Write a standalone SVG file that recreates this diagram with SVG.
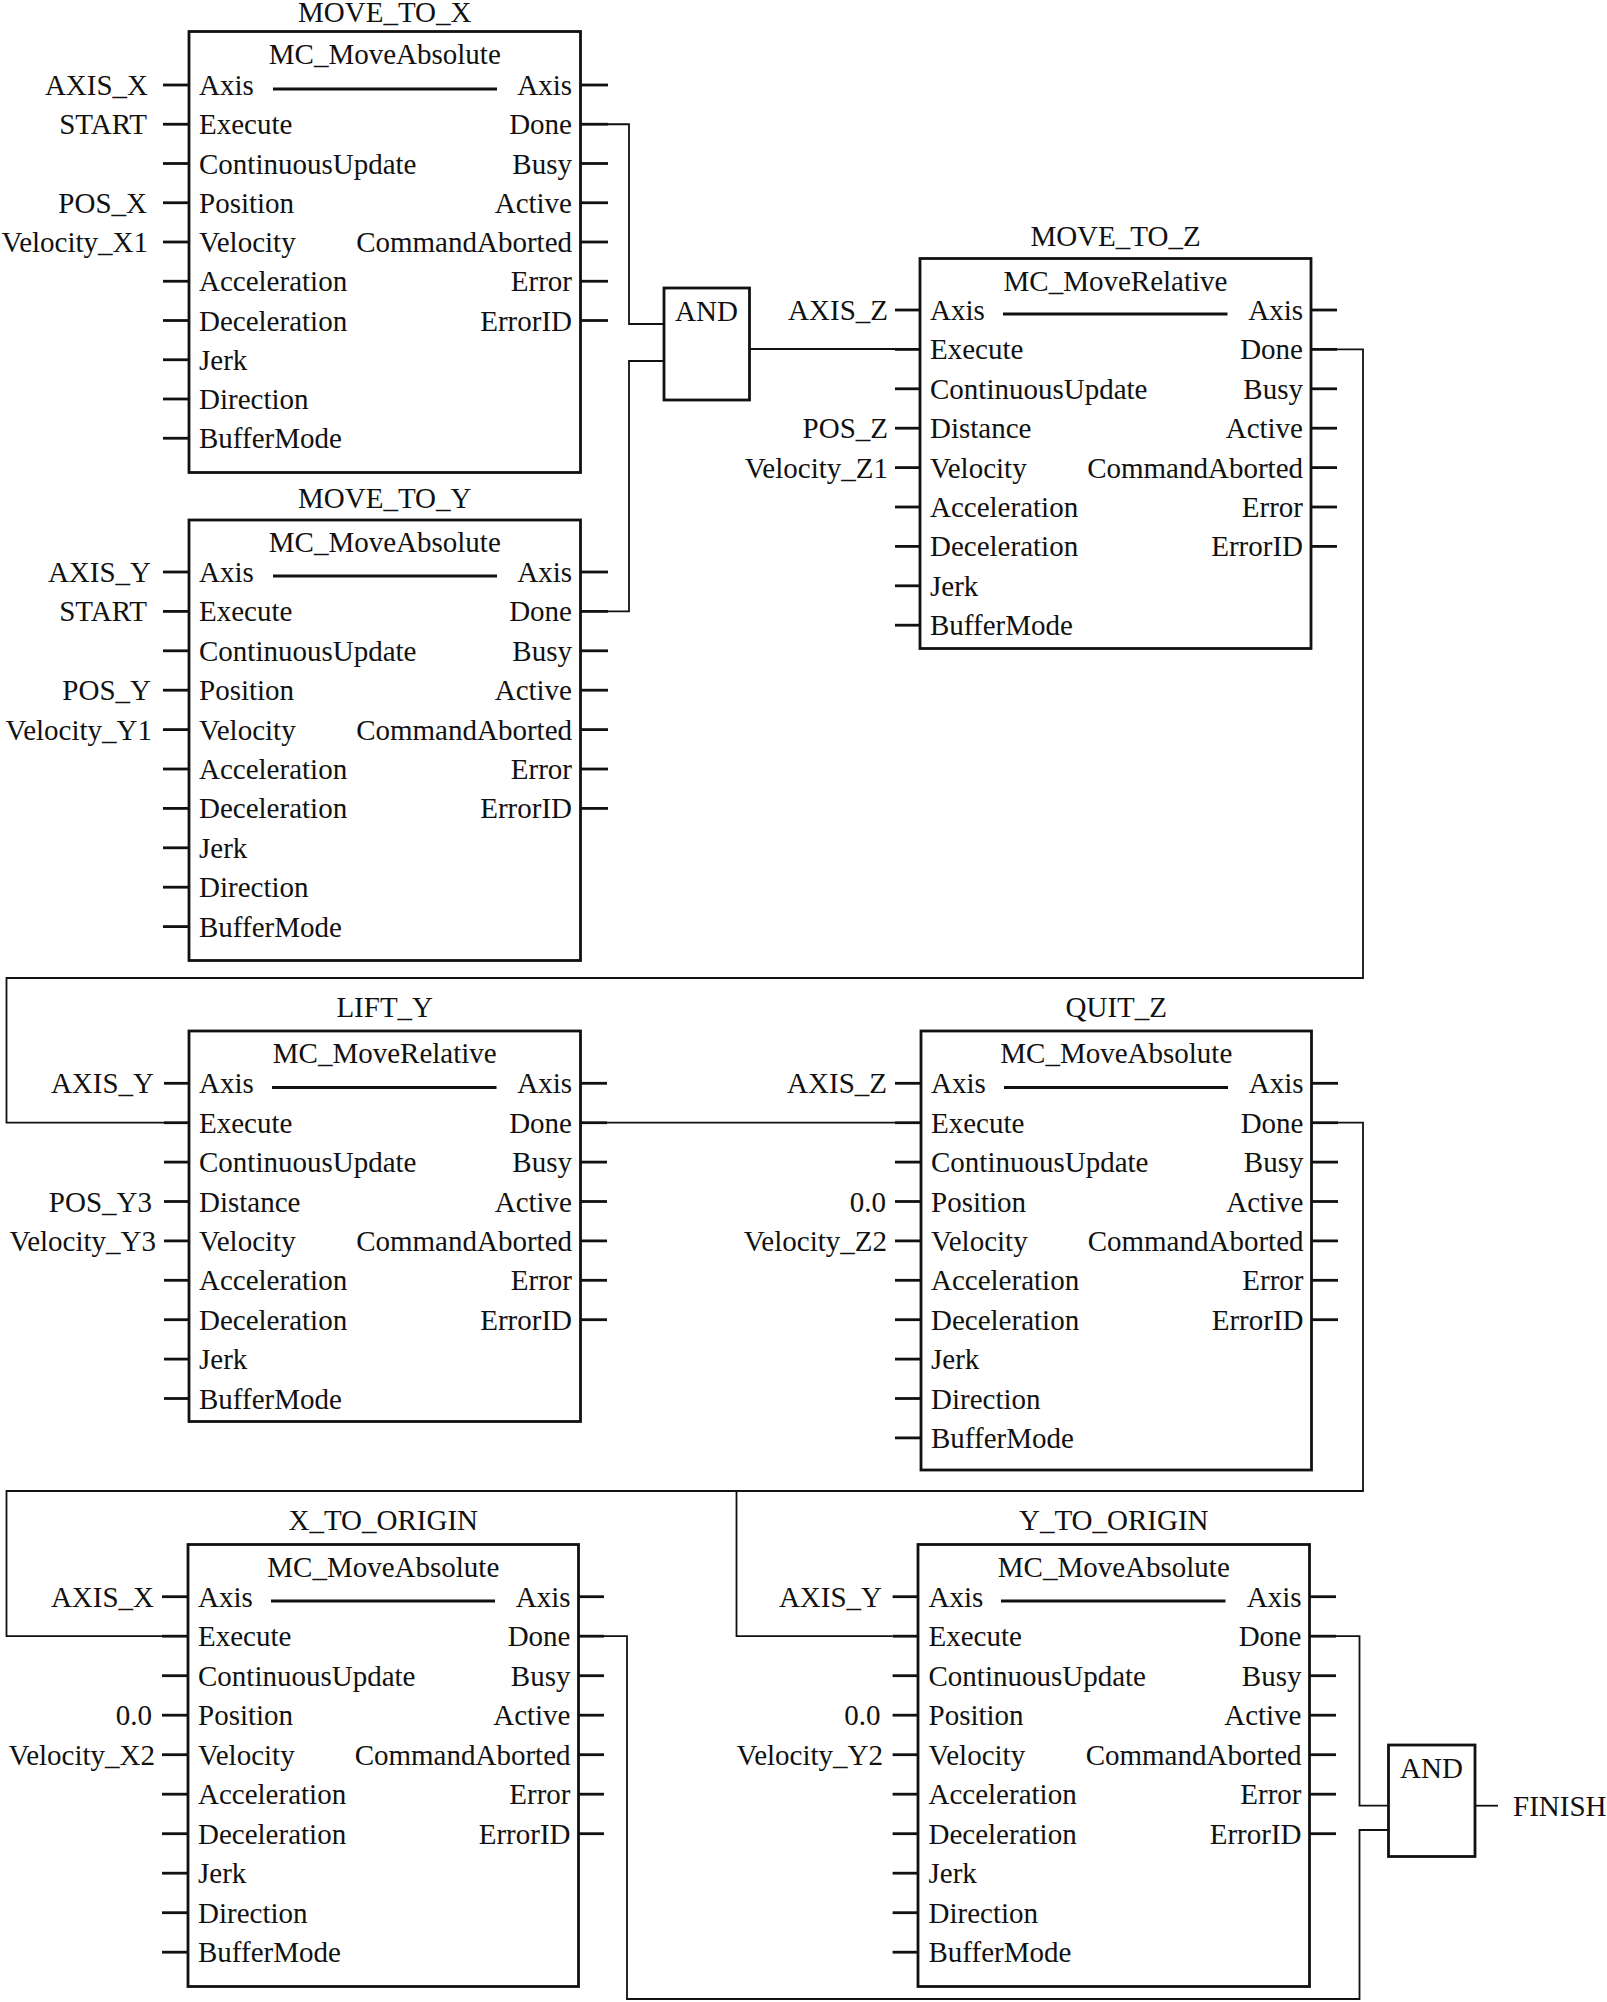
<svg xmlns="http://www.w3.org/2000/svg" width="1607" height="2002" viewBox="0 0 1607 2002">
<style>
text{font-family:"Liberation Serif","Times New Roman",serif;font-size:29px;fill:#111}
.r{text-anchor:end}
.m{text-anchor:middle}
.box{fill:none;stroke:#111;stroke-width:2.8}
.stub{stroke:#111;stroke-width:2.8}
.ax{stroke:#111;stroke-width:3}
.wire{fill:none;stroke:#111;stroke-width:1.8}
</style>
<rect width="1607" height="2002" fill="#fff"/>

<g id="connectors">
<polyline class="wire" points="608,124.25 629,124.25 629,324 664,324"/>
<polyline class="wire" points="608,611.4 629,611.4 629,361 664,361"/>
<polyline class="wire" points="749.5,349 895,349"/>
<polyline class="wire" points="1337,349.4 1363,349.4 1363,978 6.5,978 6.5,1122.7 164,1122.7"/>
<polyline class="wire" points="607,1122.7 895,1122.7"/>
<polyline class="wire" points="1338,1122.7 1363,1122.7 1363,1491 6.5,1491 6.5,1636.2 162,1636.2"/>
<polyline class="wire" points="736.5,1491 736.5,1636.2 892.6,1636.2"/>
<polyline class="wire" points="604,1636.2 627,1636.2 627,1999 1359.5,1999 1359.5,1830 1388.5,1830"/>
<polyline class="wire" points="1336,1636.2 1359.5,1636.2 1359.5,1805.7 1388.5,1805.7"/>
<polyline class="wire" points="1475,1805.7 1498,1805.7"/>
</g>

<g id="MOVE_TO_X">
<rect class="box" x="189" y="31.5" width="391.5" height="441"/>
<text class="m" x="384.75" y="22">MOVE_TO_X</text>
<text class="m" x="384.75" y="63.5">MC_MoveAbsolute</text>
<line class="ax" x1="273" y1="89" x2="497" y2="89"/>
<g class="stub">
<line x1="163" y1="85" x2="189" y2="85"/><line x1="163" y1="124.25" x2="189" y2="124.25"/><line x1="163" y1="163.5" x2="189" y2="163.5"/><line x1="163" y1="202.75" x2="189" y2="202.75"/><line x1="163" y1="242" x2="189" y2="242"/><line x1="163" y1="281.25" x2="189" y2="281.25"/><line x1="163" y1="320.5" x2="189" y2="320.5"/><line x1="163" y1="359.75" x2="189" y2="359.75"/><line x1="163" y1="399" x2="189" y2="399"/><line x1="163" y1="438.25" x2="189" y2="438.25"/>
<line x1="580.5" y1="85" x2="608" y2="85"/><line x1="580.5" y1="124.25" x2="608" y2="124.25"/><line x1="580.5" y1="163.5" x2="608" y2="163.5"/><line x1="580.5" y1="202.75" x2="608" y2="202.75"/><line x1="580.5" y1="242" x2="608" y2="242"/><line x1="580.5" y1="281.25" x2="608" y2="281.25"/><line x1="580.5" y1="320.5" x2="608" y2="320.5"/>
</g>
<text x="199" y="95">Axis</text><text x="199" y="134.3">Execute</text><text x="199" y="173.5">ContinuousUpdate</text><text x="199" y="212.8">Position</text><text x="199" y="252">Velocity</text><text x="199" y="291.3">Acceleration</text><text x="199" y="330.5">Deceleration</text><text x="199" y="369.8">Jerk</text><text x="199" y="409">Direction</text><text x="199" y="448.3">BufferMode</text>
<text class="r" x="572" y="95">Axis</text><text class="r" x="572" y="134.3">Done</text><text class="r" x="572" y="173.5">Busy</text><text class="r" x="572" y="212.8">Active</text><text class="r" x="572" y="252">CommandAborted</text><text class="r" x="572" y="291.3">Error</text><text class="r" x="572" y="330.5">ErrorID</text>
<text class="r" x="148" y="95">AXIS_X</text><text class="r" x="147" y="134.3">START</text><text class="r" x="147" y="212.8">POS_X</text><text class="r" x="148" y="252">Velocity_X1</text>
</g>

<g id="MOVE_TO_Y">
<rect class="box" x="189" y="520" width="391.5" height="440.5"/>
<text class="m" x="384.75" y="508">MOVE_TO_Y</text>
<text class="m" x="384.75" y="552">MC_MoveAbsolute</text>
<line class="ax" x1="273" y1="576" x2="497" y2="576"/>
<g class="stub">
<line x1="163" y1="572" x2="189" y2="572"/><line x1="163" y1="611.4" x2="189" y2="611.4"/><line x1="163" y1="650.8" x2="189" y2="650.8"/><line x1="163" y1="690.2" x2="189" y2="690.2"/><line x1="163" y1="729.6" x2="189" y2="729.6"/><line x1="163" y1="769" x2="189" y2="769"/><line x1="163" y1="808.4" x2="189" y2="808.4"/><line x1="163" y1="847.8" x2="189" y2="847.8"/><line x1="163" y1="887.2" x2="189" y2="887.2"/><line x1="163" y1="926.6" x2="189" y2="926.6"/>
<line x1="580.5" y1="572" x2="608" y2="572"/><line x1="580.5" y1="611.4" x2="608" y2="611.4"/><line x1="580.5" y1="650.8" x2="608" y2="650.8"/><line x1="580.5" y1="690.2" x2="608" y2="690.2"/><line x1="580.5" y1="729.6" x2="608" y2="729.6"/><line x1="580.5" y1="769" x2="608" y2="769"/><line x1="580.5" y1="808.4" x2="608" y2="808.4"/>
</g>
<text x="199" y="582">Axis</text><text x="199" y="621.4">Execute</text><text x="199" y="660.8">ContinuousUpdate</text><text x="199" y="700.2">Position</text><text x="199" y="739.6">Velocity</text><text x="199" y="779">Acceleration</text><text x="199" y="818.4">Deceleration</text><text x="199" y="857.8">Jerk</text><text x="199" y="897.2">Direction</text><text x="199" y="936.6">BufferMode</text>
<text class="r" x="572" y="582">Axis</text><text class="r" x="572" y="621.4">Done</text><text class="r" x="572" y="660.8">Busy</text><text class="r" x="572" y="700.2">Active</text><text class="r" x="572" y="739.6">CommandAborted</text><text class="r" x="572" y="779">Error</text><text class="r" x="572" y="818.4">ErrorID</text>
<text class="r" x="151" y="582">AXIS_Y</text><text class="r" x="147" y="621.4">START</text><text class="r" x="151" y="700.2">POS_Y</text><text class="r" x="152" y="739.6">Velocity_Y1</text>
</g>

<g id="AND1">
<rect class="box" x="664" y="288" width="85.5" height="112"/>
<text x="675" y="321">AND</text>
</g>

<g id="MOVE_TO_Z">
<rect class="box" x="920" y="258.5" width="391" height="390"/>
<text class="m" x="1115.5" y="246">MOVE_TO_Z</text>
<text class="m" x="1115.5" y="290.5">MC_MoveRelative</text>
<line class="ax" x1="1003" y1="314" x2="1227.5" y2="314"/>
<g class="stub">
<line x1="895" y1="310" x2="920" y2="310"/><line x1="895" y1="349.4" x2="920" y2="349.4"/><line x1="895" y1="388.8" x2="920" y2="388.8"/><line x1="895" y1="428.2" x2="920" y2="428.2"/><line x1="895" y1="467.6" x2="920" y2="467.6"/><line x1="895" y1="507" x2="920" y2="507"/><line x1="895" y1="546.4" x2="920" y2="546.4"/><line x1="895" y1="585.8" x2="920" y2="585.8"/><line x1="895" y1="625.2" x2="920" y2="625.2"/>
<line x1="1311" y1="310" x2="1337" y2="310"/><line x1="1311" y1="349.4" x2="1337" y2="349.4"/><line x1="1311" y1="388.8" x2="1337" y2="388.8"/><line x1="1311" y1="428.2" x2="1337" y2="428.2"/><line x1="1311" y1="467.6" x2="1337" y2="467.6"/><line x1="1311" y1="507" x2="1337" y2="507"/><line x1="1311" y1="546.4" x2="1337" y2="546.4"/>
</g>
<text x="930" y="320">Axis</text><text x="930" y="359.4">Execute</text><text x="930" y="398.8">ContinuousUpdate</text><text x="930" y="438.2">Distance</text><text x="930" y="477.6">Velocity</text><text x="930" y="517">Acceleration</text><text x="930" y="556.4">Deceleration</text><text x="930" y="595.8">Jerk</text><text x="930" y="635.2">BufferMode</text>
<text class="r" x="1303" y="320">Axis</text><text class="r" x="1303" y="359.4">Done</text><text class="r" x="1303" y="398.8">Busy</text><text class="r" x="1303" y="438.2">Active</text><text class="r" x="1303" y="477.6">CommandAborted</text><text class="r" x="1303" y="517">Error</text><text class="r" x="1303" y="556.4">ErrorID</text>
<text class="r" x="888" y="320">AXIS_Z</text><text class="r" x="888" y="438.2">POS_Z</text><text class="r" x="888" y="477.6">Velocity_Z1</text>
</g>

<g id="LIFT_Y">
<rect class="box" x="189" y="1031" width="391.5" height="390.5"/>
<text class="m" x="384.75" y="1017">LIFT_Y</text>
<text class="m" x="384.75" y="1063">MC_MoveRelative</text>
<line class="ax" x1="272" y1="1087.5" x2="496.5" y2="1087.5"/>
<g class="stub">
<line x1="164" y1="1083.3" x2="189" y2="1083.3"/><line x1="164" y1="1122.7" x2="189" y2="1122.7"/><line x1="164" y1="1162.1" x2="189" y2="1162.1"/><line x1="164" y1="1201.5" x2="189" y2="1201.5"/><line x1="164" y1="1240.9" x2="189" y2="1240.9"/><line x1="164" y1="1280.3" x2="189" y2="1280.3"/><line x1="164" y1="1319.7" x2="189" y2="1319.7"/><line x1="164" y1="1359.1" x2="189" y2="1359.1"/><line x1="164" y1="1398.5" x2="189" y2="1398.5"/>
<line x1="580.5" y1="1083.3" x2="607" y2="1083.3"/><line x1="580.5" y1="1122.7" x2="607" y2="1122.7"/><line x1="580.5" y1="1162.1" x2="607" y2="1162.1"/><line x1="580.5" y1="1201.5" x2="607" y2="1201.5"/><line x1="580.5" y1="1240.9" x2="607" y2="1240.9"/><line x1="580.5" y1="1280.3" x2="607" y2="1280.3"/><line x1="580.5" y1="1319.7" x2="607" y2="1319.7"/>
</g>
<text x="199" y="1093.3">Axis</text><text x="199" y="1132.7">Execute</text><text x="199" y="1172.1">ContinuousUpdate</text><text x="199" y="1211.5">Distance</text><text x="199" y="1250.9">Velocity</text><text x="199" y="1290.3">Acceleration</text><text x="199" y="1329.7">Deceleration</text><text x="199" y="1369.1">Jerk</text><text x="199" y="1408.5">BufferMode</text>
<text class="r" x="572" y="1093.3">Axis</text><text class="r" x="572" y="1132.7">Done</text><text class="r" x="572" y="1172.1">Busy</text><text class="r" x="572" y="1211.5">Active</text><text class="r" x="572" y="1250.9">CommandAborted</text><text class="r" x="572" y="1290.3">Error</text><text class="r" x="572" y="1329.7">ErrorID</text>
<text class="r" x="154" y="1093.3">AXIS_Y</text><text class="r" x="152" y="1211.5">POS_Y3</text><text class="r" x="156" y="1250.9">Velocity_Y3</text>
</g>

<g id="QUIT_Z">
<rect class="box" x="921" y="1031" width="390.5" height="439"/>
<text class="m" x="1116.25" y="1017">QUIT_Z</text>
<text class="m" x="1116.25" y="1063">MC_MoveAbsolute</text>
<line class="ax" x1="1004" y1="1087.5" x2="1228" y2="1087.5"/>
<g class="stub">
<line x1="895" y1="1083.3" x2="921" y2="1083.3"/><line x1="895" y1="1122.7" x2="921" y2="1122.7"/><line x1="895" y1="1162.1" x2="921" y2="1162.1"/><line x1="895" y1="1201.5" x2="921" y2="1201.5"/><line x1="895" y1="1240.9" x2="921" y2="1240.9"/><line x1="895" y1="1280.3" x2="921" y2="1280.3"/><line x1="895" y1="1319.7" x2="921" y2="1319.7"/><line x1="895" y1="1359.1" x2="921" y2="1359.1"/><line x1="895" y1="1398.5" x2="921" y2="1398.5"/><line x1="895" y1="1437.9" x2="921" y2="1437.9"/>
<line x1="1311.5" y1="1083.3" x2="1338" y2="1083.3"/><line x1="1311.5" y1="1122.7" x2="1338" y2="1122.7"/><line x1="1311.5" y1="1162.1" x2="1338" y2="1162.1"/><line x1="1311.5" y1="1201.5" x2="1338" y2="1201.5"/><line x1="1311.5" y1="1240.9" x2="1338" y2="1240.9"/><line x1="1311.5" y1="1280.3" x2="1338" y2="1280.3"/><line x1="1311.5" y1="1319.7" x2="1338" y2="1319.7"/>
</g>
<text x="931" y="1093.3">Axis</text><text x="931" y="1132.7">Execute</text><text x="931" y="1172.1">ContinuousUpdate</text><text x="931" y="1211.5">Position</text><text x="931" y="1250.9">Velocity</text><text x="931" y="1290.3">Acceleration</text><text x="931" y="1329.7">Deceleration</text><text x="931" y="1369.1">Jerk</text><text x="931" y="1408.5">Direction</text><text x="931" y="1447.9">BufferMode</text>
<text class="r" x="1303.5" y="1093.3">Axis</text><text class="r" x="1303.5" y="1132.7">Done</text><text class="r" x="1303.5" y="1172.1">Busy</text><text class="r" x="1303.5" y="1211.5">Active</text><text class="r" x="1303.5" y="1250.9">CommandAborted</text><text class="r" x="1303.5" y="1290.3">Error</text><text class="r" x="1303.5" y="1329.7">ErrorID</text>
<text class="r" x="887" y="1093.3">AXIS_Z</text><text class="r" x="886" y="1211.5">0.0</text><text class="r" x="887" y="1250.9">Velocity_Z2</text>
</g>

<g id="X_TO_ORIGIN">
<rect class="box" x="188" y="1544.5" width="390.5" height="442"/>
<text class="m" x="383.25" y="1530">X_TO_ORIGIN</text>
<text class="m" x="383.25" y="1577">MC_MoveAbsolute</text>
<line class="ax" x1="271" y1="1601" x2="495" y2="1601"/>
<g class="stub">
<line x1="162" y1="1596.7" x2="188" y2="1596.7"/><line x1="162" y1="1636.2" x2="188" y2="1636.2"/><line x1="162" y1="1675.7" x2="188" y2="1675.7"/><line x1="162" y1="1715.2" x2="188" y2="1715.2"/><line x1="162" y1="1754.7" x2="188" y2="1754.7"/><line x1="162" y1="1794.2" x2="188" y2="1794.2"/><line x1="162" y1="1833.7" x2="188" y2="1833.7"/><line x1="162" y1="1873.2" x2="188" y2="1873.2"/><line x1="162" y1="1912.7" x2="188" y2="1912.7"/><line x1="162" y1="1952.2" x2="188" y2="1952.2"/>
<line x1="578.5" y1="1596.7" x2="604" y2="1596.7"/><line x1="578.5" y1="1636.2" x2="604" y2="1636.2"/><line x1="578.5" y1="1675.7" x2="604" y2="1675.7"/><line x1="578.5" y1="1715.2" x2="604" y2="1715.2"/><line x1="578.5" y1="1754.7" x2="604" y2="1754.7"/><line x1="578.5" y1="1794.2" x2="604" y2="1794.2"/><line x1="578.5" y1="1833.7" x2="604" y2="1833.7"/>
</g>
<text x="198" y="1606.7">Axis</text><text x="198" y="1646.2">Execute</text><text x="198" y="1685.7">ContinuousUpdate</text><text x="198" y="1725.2">Position</text><text x="198" y="1764.7">Velocity</text><text x="198" y="1804.2">Acceleration</text><text x="198" y="1843.7">Deceleration</text><text x="198" y="1883.2">Jerk</text><text x="198" y="1922.7">Direction</text><text x="198" y="1962.2">BufferMode</text>
<text class="r" x="570.5" y="1606.7">Axis</text><text class="r" x="570.5" y="1646.2">Done</text><text class="r" x="570.5" y="1685.7">Busy</text><text class="r" x="570.5" y="1725.2">Active</text><text class="r" x="570.5" y="1764.7">CommandAborted</text><text class="r" x="570.5" y="1804.2">Error</text><text class="r" x="570.5" y="1843.7">ErrorID</text>
<text class="r" x="154" y="1606.7">AXIS_X</text><text class="r" x="152" y="1725.2">0.0</text><text class="r" x="155" y="1764.7">Velocity_X2</text>
</g>

<g id="Y_TO_ORIGIN">
<rect class="box" x="918" y="1544.5" width="391.5" height="442"/>
<text class="m" x="1113.75" y="1530">Y_TO_ORIGIN</text>
<text class="m" x="1113.75" y="1577">MC_MoveAbsolute</text>
<line class="ax" x1="1001" y1="1601" x2="1225.5" y2="1601"/>
<g class="stub">
<line x1="892.6" y1="1596.7" x2="918" y2="1596.7"/><line x1="892.6" y1="1636.2" x2="918" y2="1636.2"/><line x1="892.6" y1="1675.7" x2="918" y2="1675.7"/><line x1="892.6" y1="1715.2" x2="918" y2="1715.2"/><line x1="892.6" y1="1754.7" x2="918" y2="1754.7"/><line x1="892.6" y1="1794.2" x2="918" y2="1794.2"/><line x1="892.6" y1="1833.7" x2="918" y2="1833.7"/><line x1="892.6" y1="1873.2" x2="918" y2="1873.2"/><line x1="892.6" y1="1912.7" x2="918" y2="1912.7"/><line x1="892.6" y1="1952.2" x2="918" y2="1952.2"/>
<line x1="1309.5" y1="1596.7" x2="1336" y2="1596.7"/><line x1="1309.5" y1="1636.2" x2="1336" y2="1636.2"/><line x1="1309.5" y1="1675.7" x2="1336" y2="1675.7"/><line x1="1309.5" y1="1715.2" x2="1336" y2="1715.2"/><line x1="1309.5" y1="1754.7" x2="1336" y2="1754.7"/><line x1="1309.5" y1="1794.2" x2="1336" y2="1794.2"/><line x1="1309.5" y1="1833.7" x2="1336" y2="1833.7"/>
</g>
<text x="928.5" y="1606.7">Axis</text><text x="928.5" y="1646.2">Execute</text><text x="928.5" y="1685.7">ContinuousUpdate</text><text x="928.5" y="1725.2">Position</text><text x="928.5" y="1764.7">Velocity</text><text x="928.5" y="1804.2">Acceleration</text><text x="928.5" y="1843.7">Deceleration</text><text x="928.5" y="1883.2">Jerk</text><text x="928.5" y="1922.7">Direction</text><text x="928.5" y="1962.2">BufferMode</text>
<text class="r" x="1301.5" y="1606.7">Axis</text><text class="r" x="1301.5" y="1646.2">Done</text><text class="r" x="1301.5" y="1685.7">Busy</text><text class="r" x="1301.5" y="1725.2">Active</text><text class="r" x="1301.5" y="1764.7">CommandAborted</text><text class="r" x="1301.5" y="1804.2">Error</text><text class="r" x="1301.5" y="1843.7">ErrorID</text>
<text class="r" x="882" y="1606.7">AXIS_Y</text><text class="r" x="880.5" y="1725.2">0.0</text><text class="r" x="883" y="1764.7">Velocity_Y2</text>
</g>

<g id="AND2">
<rect class="box" x="1388.5" y="1745" width="86.5" height="111.5"/>
<text x="1400" y="1778">AND</text>
</g>

<g id="FINISH">
<text x="1513" y="1815.7">FINISH</text>
</g>
</svg>
